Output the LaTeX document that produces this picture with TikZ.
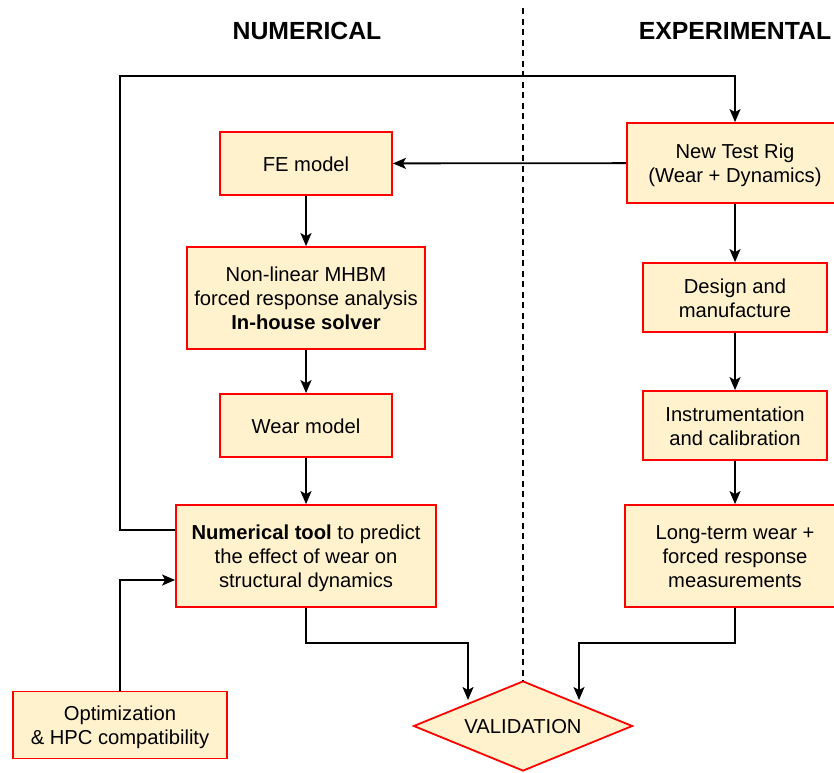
\documentclass[tikz,border=0pt]{standalone}
\usepackage{fontspec}
\setmainfont{Liberation Sans}
\usetikzlibrary{arrows.meta,shapes.geometric}
\definecolor{boxfill}{HTML}{FFF2CC}
\definecolor{boxred}{HTML}{FF0000}
\newcommand\lnstrut{\rule[-4.5pt]{0pt}{24pt}}
\begin{document}
\begin{tikzpicture}[x=1pt,y=-1pt,
  every node/.style={font=\fontsize{20.2}{24}\selectfont, align=center, inner sep=0pt},
  stepbox/.style={draw=boxred, fill=boxfill, line width=1.8pt, rectangle},
  conn/.style={line width=1.8pt, -{Stealth[length=13pt,width=11pt,inset=3pt]}},
  title/.style={font=\fontsize{24.8}{28}\bfseries\selectfont}]
\useasboundingbox (0,0) rectangle (834,772);
\clip (0,0) rectangle (834,772);

\node[title] (tnum) at (307,31) {NUMERICAL};
\node[title] (texp) at (735,31) {EXPERIMENTAL};

\coordinate (dtop) at (523,8);
\node[stepbox, diamond, minimum width=219pt, minimum height=90pt, aspect=2.43] (val) at (523,726) {\lnstrut VALIDATION};
\draw[line width=1.8pt, dash pattern=on 6pt off 4.5pt] (dtop) -- (val.north);

\node[stepbox, minimum width=172pt, minimum height=63pt] (fe) at (306,163.5) {\lnstrut FE model};
\node[stepbox, minimum width=238pt, minimum height=102pt] (nl) at (306,298) {\lnstrut Non-linear MHBM\\forced response analysis\\\textbf{In-house solver}\lnstrut};
\node[stepbox, minimum width=172pt, minimum height=63pt] (wear) at (306,425.5) {\lnstrut Wear model};
\node[stepbox, minimum width=260pt, minimum height=102pt] (tool) at (306,556) {\lnstrut\textbf{Numerical tool} to predict\\the effect of wear on\\structural dynamics\lnstrut};
\node[stepbox, minimum width=214pt, minimum height=67pt] (opt) at (120,725) {\lnstrut Optimization\\\& HPC compatibility\lnstrut};

\node[stepbox, minimum width=216pt, minimum height=80pt] (rig) at (735,163) {\lnstrut New Test Rig\\(Wear + Dynamics)\lnstrut};
\node[stepbox, minimum width=184pt, minimum height=69pt] (des) at (735,297.5) {\lnstrut Design and\\manufacture\lnstrut};
\node[stepbox, minimum width=184pt, minimum height=69pt] (ins) at (735,425.5) {\lnstrut Instrumentation\\and calibration\lnstrut};
\node[stepbox, minimum width=220pt, minimum height=102pt] (lt) at (735,556) {\lnstrut Long-term wear +\\forced response\\measurements\lnstrut};

\draw[conn] (fe) -- (nl);
\draw[conn] (nl) -- (wear);
\draw[conn] (wear) -- (tool);
\draw[conn] (rig) -- (fe);
\draw[conn] (rig) -- (des);
\draw[conn] (des) -- (ins);
\draw[conn] (ins) -- (lt);

\coordinate (toolL) at (tool.west |- 0,530);
\draw[conn] (toolL) -- (120,530) -- (120,76) -- (735,76) -- (rig.north);
\coordinate (toolL2) at (tool.west |- 0,580);
\draw[conn] (opt.north) -- (120,580) -- (toolL2);

\coordinate (vl) at (468,700);
\coordinate (vr) at (579,700);
\draw[conn] (tool.south) -- (306,643) -- (468,643) -- (vl);
\draw[conn] (lt.south) -- (735,643) -- (579,643) -- (vr);
\end{tikzpicture}
\end{document}
